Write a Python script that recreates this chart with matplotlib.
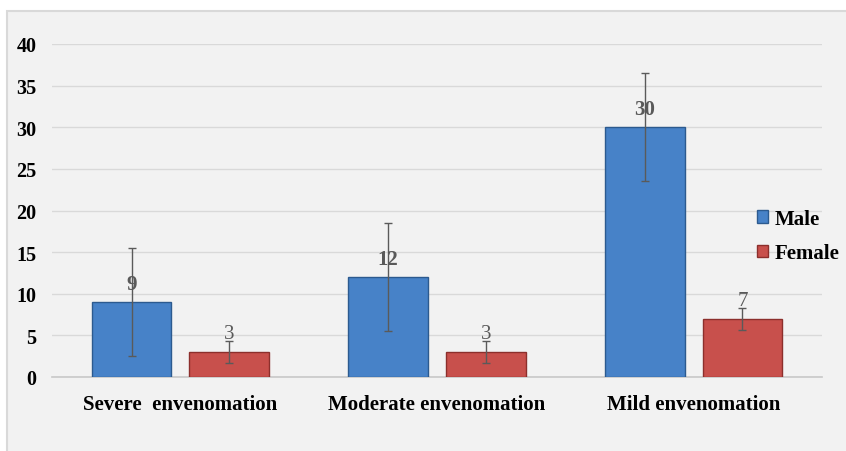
import numpy as np
import matplotlib
matplotlib.use('Agg')
import matplotlib.pyplot as plt
from matplotlib.patches import Rectangle, Patch

# データ
categories = ['Severe  envenomation', 'Moderate envenomation', 'Mild envenomation']
male_values = [9, 12, 30]
female_values = [3, 3, 7]
male_err = [6.5, 6.5, 6.5]
female_err = [1.3, 1.3, 1.3]
y_ticks = [0, 5, 10, 15, 20, 25, 30, 35, 40]

serif = ['Liberation Serif', 'DejaVu Serif']
blue = '#4782C8'
blue_edge = '#2C5A8F'
red = '#C8504C'
red_edge = '#8C2F2C'
err_color = '#5A5A5A'

W, H = 846, 452
fig = plt.figure(figsize=(W / 100, H / 100), dpi=100)
fig.patch.set_facecolor('white')

# 背景の枠
bg = Rectangle((7 / W, -0.01), 1 - 7 / W + 0.01, 1 - 12 / H + 0.01,
               transform=fig.transFigure, facecolor='#F2F2F2',
               edgecolor='#D9D9D9', linewidth=1.5, zorder=-10)
fig.patches.append(bg)

ax = fig.add_axes([52 / W, 1 - 378 / H, (822 - 52) / W, (378 - 45) / H])
ax.set_facecolor('none')
ax.set_zorder(1)

x = np.arange(len(categories))
width = 0.31
offset = 0.19

ax.bar(x - offset, male_values, width, color=blue, edgecolor=blue_edge,
       linewidth=1.0, zorder=3, label='Male')
ax.bar(x + offset, female_values, width, color=red, edgecolor=red_edge,
       linewidth=1.0, zorder=3, label='Female')

ax.errorbar(x - offset, male_values, yerr=male_err, fmt='none', ecolor=err_color,
            elinewidth=1.0, capsize=3, capthick=1.0, zorder=4)
ax.errorbar(x + offset, female_values, yerr=female_err, fmt='none', ecolor=err_color,
            elinewidth=1.0, capsize=3, capthick=1.0, zorder=4)

# 値ラベル
for xi, v in zip(x - offset, male_values):
    ax.text(xi, v + 2.2, str(v), ha='center', va='center', fontsize=15,
            family=serif, fontweight='bold', color='#595959', zorder=5)
for xi, v in zip(x + offset, female_values):
    ax.text(xi, v + 2.2, str(v), ha='center', va='center', fontsize=15,
            family=serif, color='#595959', zorder=5)

ax.set_xlim(-0.5, 2.5)
ax.set_ylim(0, 40)
ax.set_yticks(y_ticks)
ax.set_yticklabels([str(t) for t in y_ticks], family=serif, fontweight='bold',
                   fontsize=14.5)
ax.set_xticks(x)
ax.set_xticklabels(categories, family=serif, fontweight='bold', fontsize=15)
ax.tick_params(axis='both', length=0)
ax.tick_params(axis='y', pad=11)
ax.tick_params(axis='x', pad=12)

ax.grid(axis='y', color='#D9D9D9', linewidth=1.0, zorder=0)
for s in ['top', 'right', 'left']:
    ax.spines[s].set_visible(False)
ax.spines['bottom'].set_color('#C8C8C8')
ax.spines['bottom'].set_linewidth(1.2)

handles = [Patch(facecolor=blue, edgecolor=blue_edge, label='Male'),
           Patch(facecolor=red, edgecolor=red_edge, label='Female')]
leg = fig.legend(handles=handles, loc='center left', bbox_to_anchor=(738 / W, 1 - 237 / H),
                 frameon=False, prop={'family': serif, 'weight': 'bold', 'size': 15},
                 handlelength=0.55, handleheight=0.55, handletextpad=0.3, labelspacing=0.7)
leg.set_zorder(5)

plt.savefig('out.png', dpi=100, facecolor=fig.get_facecolor())
